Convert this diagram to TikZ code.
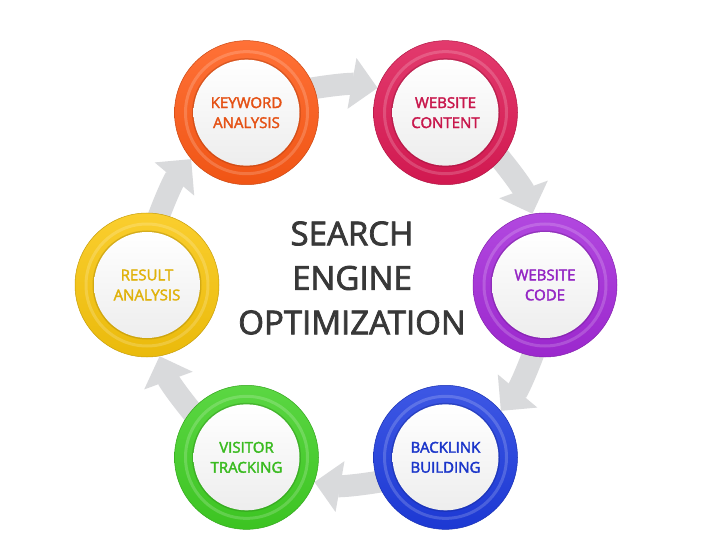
\documentclass[tikz,border=0pt]{standalone}
\usepackage{fontspec}
\setmainfont{Open Sans}[BoldFont={Open Sans},BoldFeatures={FakeBold=2.3}]
\usetikzlibrary{arrows.meta}
\pgfdeclarelayer{bg}
\pgfsetlayers{bg,main}
\definecolor{kwcol}{HTML}{FF5A16}
\definecolor{wccol}{HTML}{DE1A55}
\definecolor{codecol}{HTML}{A52ADA}
\definecolor{blcol}{HTML}{1E3CE0}
\definecolor{vtcol}{HTML}{40D024}
\definecolor{racol}{HTML}{F9C60C}
\definecolor{arrowgray}{HTML}{D9DADC}
\definecolor{seogray}{HTML}{383838}

\begin{document}
\begin{tikzpicture}[x=1pt,y=1pt,
  seostep/.style={circle,minimum size=144pt,inner sep=0pt,
    top color=#1!86!white,bottom color=#1!94!black,draw=#1!80!black,line width=0.5pt,
    text=#1!90!black,align=center,font=\bfseries\fontsize{15}{20}\selectfont,
    path picture={
      \draw[white,opacity=0.18,line width=3pt] (path picture bounding box.center) circle (61pt);
      \fill[#1!65!black,opacity=0.4] (path picture bounding box.center) circle (54.5pt);
      \shade[top color=white,bottom color=gray!14] (path picture bounding box.center) circle (53pt);
    }},
  cyclearrow/.style={draw=arrowgray,line width=22pt,-{Triangle[length=26pt,width=50pt]},shorten <=-12pt}]

  % six steps round the hexagon
  \begin{scope}[shift={(346,265)}]
    \node[seostep=kwcol] (kw) at (120:199) {KEYWORD\\ANALYSIS};
    \node[seostep=wccol] (wc) at (60:199) {WEBSITE\\CONTENT};
    \node[seostep=codecol] (code) at (0:199) {WEBSITE\\CODE};
    \node[seostep=blcol] (bl) at (-60:199) {BACKLINK\\BUILDING};
    \node[seostep=vtcol] (vt) at (-120:199) {VISITOR\\TRACKING};
    \node[seostep=racol] (ra) at (180:199) {RESULT\\ANALYSIS};
  \end{scope}

  \node[font=\bfseries\fontsize{33}{44.5}\selectfont,text=seogray,align=center] (seo) at (352,272)
    {SEARCH\\ENGINE\\OPTIMIZATION};

  % arrows behind the rings
  \begin{pgfonlayer}{bg}
    \fill[white] (0,0) rectangle (718,550);
    \foreach \from/\to/\sa/\eb in {kw/wc/20/160,wc/code/320/100,code/bl/260/40,
                                   bl/vt/200/340,vt/ra/140/280,ra/kw/80/220}
      \draw[cyclearrow] (\from.\sa) to[bend left=10] (\to.\eb);
  \end{pgfonlayer}
\end{tikzpicture}
\end{document}
